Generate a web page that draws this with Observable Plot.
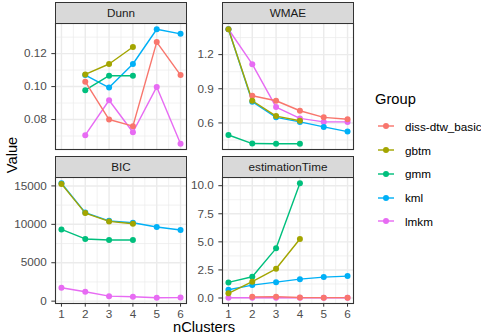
<!DOCTYPE html>
<html><head><meta charset="utf-8">
<script src="https://cdn.jsdelivr.net/npm/d3@7"></script>
<script src="https://cdn.jsdelivr.net/npm/@observablehq/plot@0.6"></script>
<style>
body{margin:0;background:#fff;}
#chart{position:relative;width:481px;height:336px;font-family:"Liberation Sans",Arial,sans-serif;overflow:hidden;background:#fff;}
.strip{position:absolute;box-sizing:border-box;border:1.1px solid #333;background:#D9D9D9;color:#1A1A1A;font-size:11.7px;display:flex;align-items:center;justify-content:center;}
.panel{position:absolute;}
.atitle{position:absolute;font-size:14.7px;color:#000;white-space:nowrap;}
.legtitle{position:absolute;font-size:14.7px;color:#000;}
.legitem{position:absolute;display:flex;align-items:center;font-size:11.7px;color:#000;white-space:nowrap;}
</style>
</head><body>
<div id="chart"></div>
<script>
// ---- data ----
const groups = ["diss-dtw_basic", "gbtm", "gmm", "kml", "lmkm"];
const groupColors = ["#F8766D", "#A3A500", "#00BF7D", "#00B0F6", "#E76BF3"];
const nClusters = [1, 2, 3, 4, 5, 6];
const xMinor = [1.5, 2.5, 3.5, 4.5, 5.5];

// values per group (order of `groups`), index = nClusters-1, null = missing
const dunnValues = [
  [null, 0.103, 0.080, 0.076, 0.127, 0.107],
  [null, 0.1074, 0.1137, 0.124, null, null],
  [null, 0.0978, 0.1066, 0.1066, null, null],
  [null, 0.1070, 0.0994, 0.1137, 0.1348, 0.132],
  [null, 0.0705, 0.0917, 0.0723, 0.0998, 0.0653]
];
const wmaeValues = [
  [null, 0.839, 0.795, 0.707, 0.649, 0.632],
  [1.423, 0.795, 0.660, 0.619, null, null],
  [0.494, 0.419, 0.417, 0.417, null, null],
  [1.423, 0.786, 0.649, 0.609, 0.565, 0.524],
  [1.423, 1.116, 0.739, 0.640, 0.609, 0.609]
];
const bicValues = [
  [null, null, null, null, null, null],
  [15260, 11460, 10380, 10080, null, null],
  [9340, 8100, 7970, 7970, null, null],
  [15350, 11530, 10450, 10200, 9650, 9260],
  [1740, 1220, 650, 570, 440, 460]
];
const timeValues = [
  [null, 0.10, 0.12, 0.05, 0.03, 0.03],
  [0.42, 1.45, 2.60, 5.25, null, null],
  [1.39, 1.89, 4.42, 10.22, null, null],
  [0.74, 1.15, 1.41, 1.68, 1.86, 1.95],
  [0.02, 0.02, 0.02, 0.02, 0.02, 0.02]
];

const dunnTicks = [0.08, 0.10, 0.12];
const dunnMinor = [0.07, 0.09, 0.11, 0.13];
const wmaeTicks = [0.6, 0.9, 1.2];
const wmaeMinor = [0.45, 0.75, 1.05, 1.35];
const bicTicks = [0, 5000, 10000, 15000];
const bicMinor = [2500, 7500, 12500];
const timeTicks = [0, 2.5, 5, 7.5, 10];
const timeMinor = [1.25, 3.75, 6.25, 8.75];

const drawOrder = ["lmkm", "kml", "gmm", "diss-dtw_basic", "gbtm"];

// ---- layout ----
const colLeft = [55, 222];
const panelW = 131;
const panelTop = [23, 177];
const panelH = 126;
const stripH = 21.5;

const panels = [
  {name: "Dunn", values: dunnValues, ticks: dunnTicks, minor: dunnMinor, fmt: d3.format(".2f"), col: 0, row: 0},
  {name: "WMAE", values: wmaeValues, ticks: wmaeTicks, minor: wmaeMinor, fmt: d3.format(".1f"), col: 1, row: 0},
  {name: "BIC", values: bicValues, ticks: bicTicks, minor: bicMinor, fmt: d3.format("d"), col: 0, row: 1},
  {name: "estimationTime", values: timeValues, ticks: timeTicks, minor: timeMinor, fmt: d3.format(".1f"), col: 1, row: 1}
];

const chart = document.getElementById("chart");

function tidy(values) {
  const rows = [];
  groups.forEach((g, gi) => {
    values[gi].forEach((v, i) => {
      if (v != null) rows.push({group: g, n: nClusters[i], v});
    });
  });
  rows.sort((a, b) => drawOrder.indexOf(a.group) - drawOrder.indexOf(b.group));
  return rows;
}

for (const p of panels) {
  const rows = tidy(p.values);
  const [lo, hi] = d3.extent(rows, d => d.v);
  const pad = (hi - lo) * 0.05;
  const mt = 1, mr = 3, ml = 55, mb = p.row === 1 ? 24 : 2;
  const marks = [
    Plot.ruleX(xMinor, {stroke: "#EBEBEB", strokeWidth: 0.71}),
    Plot.ruleY(p.minor, {stroke: "#EBEBEB", strokeWidth: 0.71}),
    Plot.ruleX(nClusters, {stroke: "#EBEBEB", strokeWidth: 1.42}),
    Plot.ruleY(p.ticks, {stroke: "#EBEBEB", strokeWidth: 1.42}),
    Plot.line(rows, {x: "n", y: "v", z: "group", stroke: "group", strokeWidth: 1.42}),
    Plot.dot(rows, {x: "n", y: "v", fill: "group", r: 3}),
    Plot.frame({stroke: "#333", strokeWidth: 1.1}),
    Plot.axisY({ticks: p.ticks, tickFormat: p.fmt, tickSize: 3.67, tickPadding: 5, fontSize: 11.7, label: null, stroke: "#333", fill: "#4D4D4D"})
  ];
  if (p.row === 1) {
    marks.push(Plot.axisX({ticks: nClusters, tickFormat: d => String(d), tickSize: 3.67, tickPadding: 2.5, fontSize: 11.7, label: null, stroke: "#333", fill: "#4D4D4D"}));
  }
  const svg = Plot.plot({
    width: ml + panelW + mr,
    height: mt + panelH + mb,
    marginLeft: ml, marginRight: mr, marginTop: mt, marginBottom: mb,
    style: {fontFamily: "'Liberation Sans', Arial, sans-serif", color: "#4D4D4D", background: "transparent", overflow: "visible"},
    x: {domain: [0.75, 6.25], axis: null},
    y: {domain: [lo - pad, hi + pad], axis: null},
    color: {domain: groups, range: groupColors},
    marks
  });
  const wrap = document.createElement("div");
  wrap.className = "panel";
  wrap.style.left = (colLeft[p.col] - ml) + "px";
  wrap.style.top = (panelTop[p.row] - mt) + "px";
  wrap.appendChild(svg);
  chart.appendChild(wrap);

  const strip = document.createElement("div");
  strip.className = "strip";
  strip.style.left = colLeft[p.col] + "px";
  strip.style.top = (panelTop[p.row] - stripH) + "px";
  strip.style.width = (panelW + 1) + "px";
  strip.style.height = (stripH + 0.5) + "px";
  strip.textContent = p.name;
  chart.appendChild(strip);
}

// axis titles
const yt = document.createElement("div");
yt.className = "atitle";
yt.textContent = "Value";
yt.style.left = "12px"; yt.style.top = "155px";
yt.style.transform = "translate(-50%,-50%) rotate(-90deg)";
chart.appendChild(yt);

const xt = document.createElement("div");
xt.className = "atitle";
xt.textContent = "nClusters";
xt.style.left = "204px"; xt.style.top = "327px";
xt.style.transform = "translate(-50%,-50%)";
chart.appendChild(xt);

// legend
const lt = document.createElement("div");
lt.className = "legtitle";
lt.textContent = "Group";
lt.style.left = "375px"; lt.style.top = "91px";
chart.appendChild(lt);

const legY = [126, 150, 173.7, 197.7, 221.3];
groups.forEach((g, i) => {
  const item = document.createElement("div");
  item.className = "legitem";
  item.style.left = "377px";
  item.style.top = (legY[i] - 9) + "px";
  item.style.height = "18px";
  const ns = "http://www.w3.org/2000/svg";
  const s = document.createElementNS(ns, "svg");
  s.setAttribute("width", "18"); s.setAttribute("height", "18");
  const ln = document.createElementNS(ns, "line");
  ln.setAttribute("x1", "1"); ln.setAttribute("x2", "17");
  ln.setAttribute("y1", "9"); ln.setAttribute("y2", "9");
  ln.setAttribute("stroke", groupColors[i]); ln.setAttribute("stroke-width", "1.42");
  const c = document.createElementNS(ns, "circle");
  c.setAttribute("cx", "9"); c.setAttribute("cy", "9"); c.setAttribute("r", "3");
  c.setAttribute("fill", groupColors[i]);
  s.appendChild(ln); s.appendChild(c);
  const lab = document.createElement("span");
  lab.textContent = g;
  lab.style.marginLeft = "10px";
  item.appendChild(s); item.appendChild(lab);
  chart.appendChild(item);
});
</script>
</body></html>
